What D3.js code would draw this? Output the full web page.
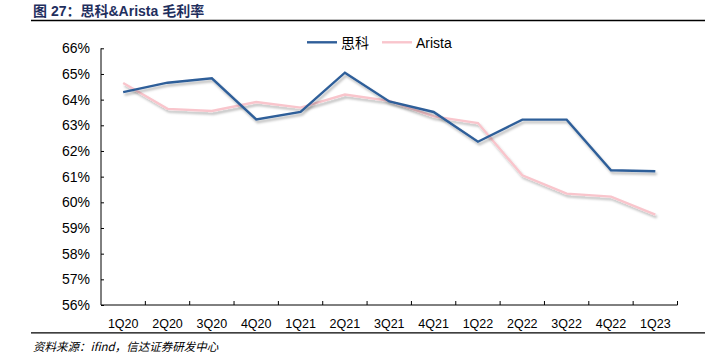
<!DOCTYPE html>
<html><head><meta charset="utf-8">
<script src="https://cdn.jsdelivr.net/npm/d3@7"></script>
<style>body{margin:0;background:#fff}svg{display:block}</style>
</head><body>
<svg id="c" width="705" height="356"></svg>
<script>
const categories = ["1Q20","2Q20","3Q20","4Q20","1Q21","2Q21","3Q21","4Q21","1Q22","2Q22","3Q22","4Q22","1Q23"];
const cisco = [64.29,64.66,64.83,63.23,63.52,65.05,63.93,63.52,62.36,63.22,63.22,61.25,61.21];
const arista = [64.65,63.64,63.56,63.91,63.69,64.2,63.95,63.35,63.09,61.05,60.34,60.22,59.52];
const yTicks = [56,57,58,59,60,61,62,63,64,65,66];
const seriesNames = ["思科","Arista"];
const colors = ["#2F5E99","#F9C5CC"];

const svg = d3.select("#c");
const L = 101, R = 677.5, T = 48.3, B = 305;
const x = d3.scaleBand().domain(categories).range([L, R]);
const y = d3.scaleLinear().domain([56, 66]).range([B, T]);

const defs = svg.append("defs");
const f = defs.append("filter").attr("id","sh").attr("x","-5%").attr("y","-20%").attr("width","110%").attr("height","140%");
f.append("feDropShadow").attr("dx",1.5).attr("dy",2.5).attr("stdDeviation",1.3).attr("flood-color","#000").attr("flood-opacity",0.28);

// title
svg.append("text").attr("x",33).attr("y",15.5)
  .attr("font-family","'Liberation Sans','Noto Sans CJK SC',sans-serif")
  .attr("font-size",14).attr("font-weight","bold").attr("fill","#1F2F5E")
  .text("图 27：思科&Arista 毛利率");
svg.append("line").attr("x1",31).attr("x2",705).attr("y1",20.5).attr("y2",20.5).attr("stroke","#000").attr("stroke-width",1.3);
svg.append("line").attr("x1",31).attr("x2",705).attr("y1",332.8).attr("y2",332.8).attr("stroke","#000").attr("stroke-width",1.2);
svg.append("text").attr("x",33).attr("y",351)
  .attr("font-family","'Noto Sans CJK SC',sans-serif").attr("font-style","italic")
  .attr("font-size",11.5).attr("fill","#000")
  .text("资料来源：ifind，信达证券研发中心");

// axes
const yAxis = d3.axisLeft(y).tickValues(yTicks).tickSize(-3).tickPadding(11).tickFormat(d => d + "%");
const gy = svg.append("g").attr("transform",`translate(${L},0)`).call(yAxis);
gy.select(".domain").attr("d",`M0,${T}V${B}`).attr("stroke","#000");
gy.selectAll(".tick line").attr("stroke","#000");
gy.selectAll("text").attr("font-family","'Liberation Sans',Arial,sans-serif").attr("font-size",14).attr("fill","#000");

const xAxis = d3.axisBottom(x).tickSize(0).tickPadding(14);
const gx = svg.append("g").attr("transform",`translate(0,${B})`).call(xAxis);
gx.select(".domain").attr("d",`M${L},0H${R}`).attr("stroke","#000");
gx.selectAll("text").attr("font-family","'Liberation Sans',Arial,sans-serif").attr("font-size",12.5).attr("fill","#000");
// boundary ticks
svg.append("g").selectAll("line").data(categories.slice(1).concat(["end"])).join("line")
  .attr("x1",(d,i)=> L + x.step()*(i+1)).attr("x2",(d,i)=> L + x.step()*(i+1))
  .attr("y1",B).attr("y2",B-4).attr("stroke","#000");

// lines
const line = d3.line().x((d,i)=> x(categories[i]) + x.bandwidth()/2).y(d => y(d));
[arista, cisco].forEach((s, k) => {
  const ci = k === 0 ? 1 : 0;
  svg.append("path").datum(s).attr("d", line).attr("fill","none")
    .attr("stroke", colors[ci]).attr("stroke-width", 2.4)
    .attr("stroke-linejoin","miter").attr("filter","url(#sh)");
});

// legend
const lg = svg.append("g");
const lx = [307, 382];
seriesNames.forEach((n,i) => {
  lg.append("line").attr("x1",lx[i]).attr("x2",lx[i]+30).attr("y1",42.3).attr("y2",42.3)
    .attr("stroke",colors[i]).attr("stroke-width",2.4);
  lg.append("text").attr("x",lx[i]+34).attr("y",47.5)
    .attr("font-family","'Liberation Sans','Noto Sans CJK SC',sans-serif").attr("font-size",14).attr("fill","#000").text(n);
});
</script>
</body></html>
